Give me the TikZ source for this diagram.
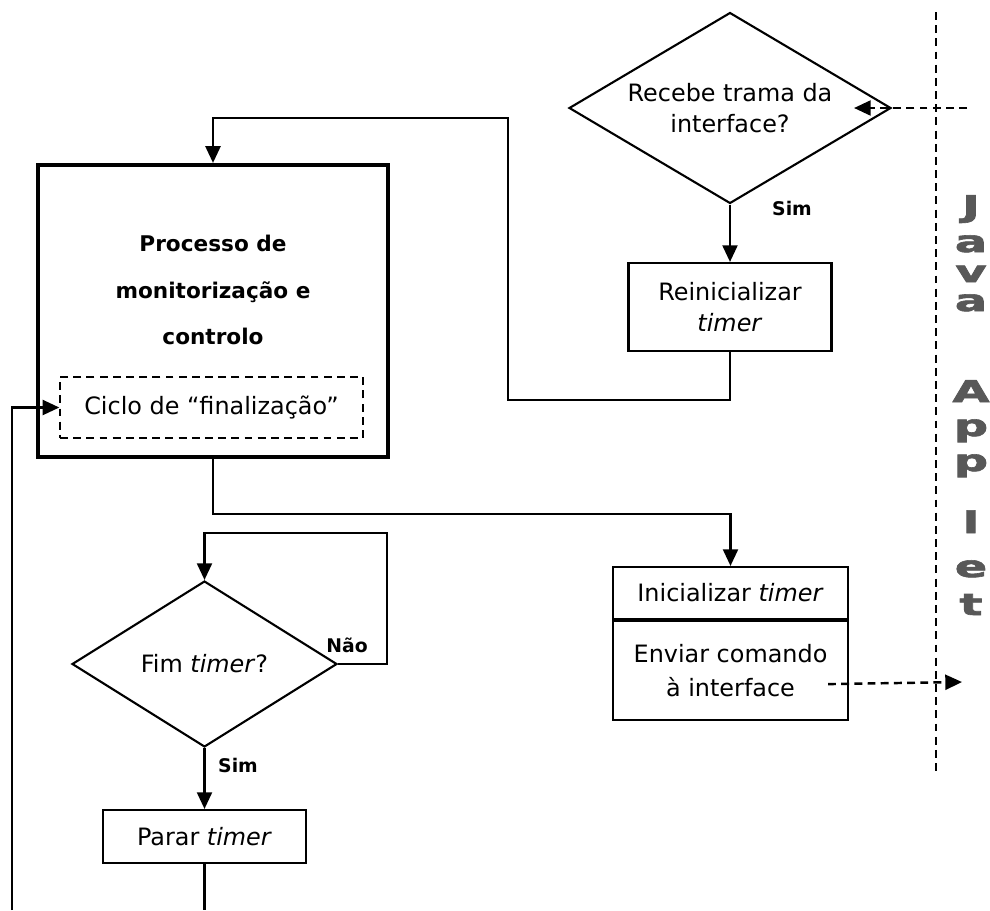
\documentclass[tikz,border=0pt]{standalone}
\usepackage{fontspec}
\setmainfont{DejaVu Sans}
\newfontfamily\appletfont[FakeBold=2]{DejaVu Sans Bold}
\usepackage{graphicx}
\usetikzlibrary{positioning, arrows.meta, calc, shapes.geometric}
\definecolor{appletcolor}{RGB}{88,88,88}

\begin{document}
\begin{tikzpicture}[
  x=0.02cm, y=-0.02cm,
  font=\fontsize{13.6}{17.6}\selectfont,
  line width=1.4pt,
  processo/.style={draw, rectangle, line width=1.2pt, align=center, minimum width=4.06cm, inner sep=2pt},
  decisao/.style={draw, diamond, line width=1.2pt, align=center, inner sep=0pt},
  seta/.style={-{Triangle[length=9.5pt, width=8.5pt]}},
  rotulo/.style={font=\fontsize{10.7}{12}\selectfont\bfseries},
  tracejado/.style={dash pattern=on 4.5pt off 3pt},
  letra/.style={font=\fontsize{17}{18}\appletfont, text=appletcolor, anchor=base, inner sep=0pt}
]
\useasboundingbox (0,0) rectangle (990,910);

\node[decisao, aspect=1.69, minimum width=6.44cm, minimum height=3.82cm] (recebe) at (730,108) {Recebe trama da\\interface?};
\node[processo, minimum height=1.76cm] (reinic) at (730,307) {Reinicializar\\\textit{timer}};

\node[draw, line width=2.4pt, minimum width=7cm, minimum height=5.84cm] (proc) at (213,311) {};
\node[font=\fontsize{12.3}{26.6}\selectfont\bfseries, align=center] (procTitulo) at (213,290) {Processo de\\monitorização e\\controlo};
\node[draw, tracejado, line width=0.8pt, minimum width=6.06cm, minimum height=1.22cm] (ciclo) at (211.5,407.5) {Ciclo de “finalização”};

\node[processo, minimum width=4.7cm, minimum height=1.04cm] (inic) at (730.5,593) {Inicializar \textit{timer}};
\node[processo, minimum width=4.7cm, minimum height=1.98cm, anchor=north, font=\fontsize{13.6}{19.8}\selectfont] (enviar) at (inic.south) {Enviar comando\\à interface};

\node[decisao, aspect=1.6, minimum width=5.3cm, minimum height=3.32cm] (fim) at (204.5,664) {Fim \textit{timer}?};
\node[processo, minimum height=1.06cm] (parar) at (204.5,836.5) {Parar \textit{timer}};

\coordinate (appletTopo) at (936,12);
\coordinate (appletBase) at (936,775);
\coordinate (entrada) at (967,108);
\coordinate (saida) at (962,682);
\coordinate (fundo) at (12,910);

\draw[seta] (recebe.south) -- (reinic.north);
\draw[seta] (reinic.south) -- ++(0,48) -| (508,118) -| (proc.north);
\draw[seta] (proc.south) -- ++(0,55) -| (inic.north);
\draw[seta] (fim.east) -| ++(49,-131) -| (fim.north);
\draw[seta] (fim.south) -- (parar.north);
\draw (parar.south) -- (parar.south |- fundo);
\draw[seta] (fundo) |- (ciclo.west);

\draw[tracejado, line width=0.8pt] (appletTopo) -- (appletBase);
\draw[tracejado, seta] (entrada) -- ($(recebe.east)+(-38,0)$);
\draw[tracejado, seta] ($(enviar.east)+(-21,13.5)$) -- (saida);

\node[rotulo] (simRecebe) at (792,208) {Sim};
\node[rotulo] (simFim) at (238,765) {Sim};
\node[rotulo] (naoFim) at (347,645) {Não};

\foreach \letra/\py [count=\i] in {J/217,a/252,v/282,a/311,A/402,p/436,p/471,l/533,e/577,t/615}
  \node[letra] (applet\i) at (971,\py) {\scalebox{1.6}[1]{\letra}};
\end{tikzpicture}
\end{document}
